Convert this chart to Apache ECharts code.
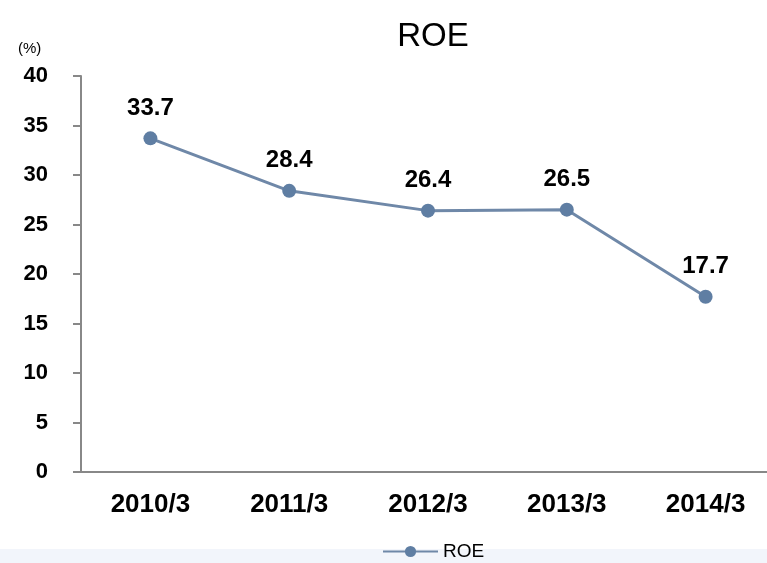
<!DOCTYPE html>
<html>
<head>
<meta charset="utf-8">
<script src="https://cdn.jsdelivr.net/npm/echarts@6/dist/echarts.min.js"></script>
<style>
    html, body { margin: 0; padding: 0; background: #fff; }
    #chart { width: 767px; height: 563px; }
</style>
</head>
<body>
<div id="chart"></div>
<script type="text/javascript">
    var categories = ['2010/3', '2011/3', '2012/3', '2013/3', '2014/3'];
    var roeValues = [33.7, 28.4, 26.4, 26.5, 17.7];
    var seriesName = 'ROE';

    var sans = '"Liberation Sans", Arial, sans-serif';
    var myChart = echarts.init(document.getElementById('chart'));
    var option = {
        backgroundColor: '#ffffff',
        textStyle: { fontFamily: sans },
        title: {
            text: 'ROE',
            left: 428,
            textAlign: 'center',
            top: 15,
            textStyle: { fontSize: 33, fontWeight: 'normal', color: '#000', fontFamily: sans }
        },
        graphic: [
            {
                type: 'rect',
                left: 0, top: 549,
                shape: { width: 767, height: 14 },
                style: { fill: '#f2f5fb' },
                z: -1
            },
            {
                type: 'text',
                left: 18, top: 41,
                style: { text: '(%)', fontSize: 15, fill: '#000', fontFamily: sans }
            }
        ],
        legend: {
            top: 537,
            left: 377,
            itemWidth: 55,
            itemHeight: 14,
            itemGap: 4,
            data: [seriesName],
            textStyle: { fontSize: 19, color: '#000' }
        },
        grid: {
            left: 81,
            top: 76,
            width: 694,
            height: 396,
            outerBoundsMode: 'none',
            containLabel: false
        },
        xAxis: {
            type: 'category',
            data: categories,
            boundaryGap: true,
            axisLine: { lineStyle: { color: '#888', width: 2 } },
            axisTick: { length: 7, lineStyle: { color: '#888', width: 2 } },
            axisLabel: { fontSize: 26, fontWeight: 'bold', color: '#000', margin: 20 }
        },
        yAxis: {
            type: 'value',
            min: 0,
            max: 40,
            interval: 5,
            splitLine: { show: false },
            axisLine: { show: true, lineStyle: { color: '#888', width: 2 } },
            axisTick: { show: true, length: 8, lineStyle: { color: '#888', width: 2 } },
            axisLabel: { fontSize: 22, fontWeight: 'bold', color: '#000', margin: 33 }
        },
        series: [
            {
                name: seriesName,
                type: 'line',
                data: roeValues,
                symbol: 'circle',
                symbolSize: 14,
                color: '#5f7ea3',
                lineStyle: { width: 3, color: '#6f88a8' },
                itemStyle: { color: '#5f7ea3' },
                label: {
                    show: true,
                    position: 'top',
                    distance: 11,
                    fontSize: 24,
                    fontWeight: 'bold',
                    color: '#000'
                }
            }
        ]
    };
    myChart.setOption(option);
</script>
</body>
</html>
